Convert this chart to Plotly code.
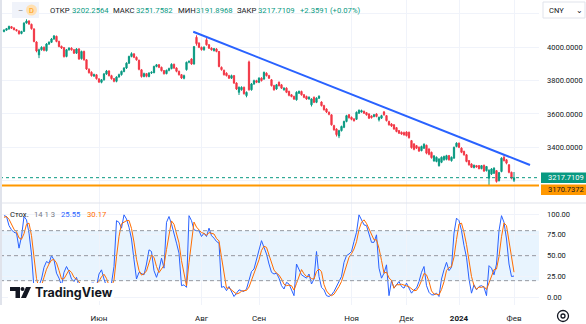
import plotly.graph_objects as go

# ---------------- data (daily bars, index = trading day) ----------------
open_ = [4095, 4103, 4110, 4124, 4116, 4106, 4098, 4083, 4096, 4146,
 4158, 4138, 4110, 4032, 3955, 3985, 4000, 3980, 4020, 4030,
 4050, 4066, 4035, 4006, 3998, 3945, 3985, 3995, 3985, 3965,
 3990, 3932, 3975, 3925, 3868, 3850, 3828, 3835, 3810, 3790,
 3805, 3840, 3858, 3830, 3812, 3796, 3822, 3836, 3855, 3876,
 3905, 3945, 3960, 3940, 3922, 3865, 3825, 3842, 3825, 3846,
 3848, 3885, 3895, 3880, 3860, 3842, 3862, 3872, 3898, 3876,
 3856, 3836, 3814, 3866, 3910, 3930, 3900, 4060, 4025, 4000,
 3985, 4045, 4015, 3995, 3980, 3990, 3975, 3880, 3862, 3845,
 3830, 3815, 3830, 3786, 3730, 3745, 3760, 3710, 3912, 3745,
 3780, 3800, 3790, 3815, 3810, 3845, 3830, 3805, 3770, 3750,
 3790, 3775, 3745, 3755, 3735, 3715, 3705, 3685, 3725, 3735,
 3715, 3705, 3690, 3655, 3700, 3670, 3695, 3672, 3650, 3630,
 3610, 3595, 3530, 3510, 3468, 3500, 3520, 3555, 3595, 3580,
 3570, 3568, 3605, 3612, 3616, 3608, 3600, 3588, 3585, 3600,
 3565, 3575, 3612, 3590, 3555, 3540, 3535, 3518, 3500, 3490,
 3488, 3492, 3490, 3440, 3420, 3410, 3400, 3380, 3395, 3412,
 3390, 3370, 3318, 3315, 3290, 3310, 3325, 3328, 3350, 3320,
 3335, 3405, 3425, 3395, 3375, 3355, 3320, 3300, 3278, 3290,
 3290, 3272, 3292, 3260, 3215, 3240, 3245, 3260, 3200, 3255,
 3340, 3325, 3295, 3250, 3202.2564]

close = [4103, 4112, 4125, 4115, 4106, 4100, 4082, 4095, 4145, 4158,
 4140, 4112, 4035, 3978, 3985, 4000, 3982, 4020, 4030, 4050,
 4068, 4035, 4005, 3996, 3945, 3985, 3995, 3985, 3965, 3990,
 3930, 3975, 3925, 3870, 3848, 3830, 3836, 3812, 3792, 3805,
 3840, 3858, 3830, 3812, 3796, 3822, 3836, 3856, 3876, 3905,
 3945, 3962, 3940, 3925, 3868, 3825, 3842, 3826, 3846, 3850,
 3885, 3895, 3880, 3860, 3842, 3862, 3872, 3898, 3876, 3856,
 3836, 3816, 3830, 3910, 3916, 3900, 4004, 4022, 4000, 3986,
 4000, 4015, 3995, 3985, 3992, 3975, 3885, 3866, 3836, 3830,
 3815, 3830, 3786, 3750, 3760, 3760, 3722, 3730, 3745, 3780,
 3800, 3790, 3815, 3800, 3850, 3830, 3815, 3770, 3745, 3775,
 3770, 3755, 3755, 3730, 3712, 3705, 3690, 3730, 3736, 3715,
 3700, 3690, 3700, 3690, 3670, 3695, 3706, 3650, 3626, 3612,
 3598, 3535, 3505, 3476, 3500, 3525, 3555, 3590, 3578, 3568,
 3560, 3610, 3622, 3620, 3605, 3595, 3575, 3578, 3595, 3585,
 3580, 3590, 3595, 3560, 3535, 3528, 3510, 3495, 3485, 3480,
 3475, 3470, 3458, 3398, 3388, 3395, 3378, 3405, 3418, 3365,
 3358, 3338, 3348, 3340, 3330, 3340, 3345, 3350, 3325, 3340,
 3400, 3425, 3400, 3370, 3355, 3315, 3295, 3280, 3292, 3282,
 3272, 3290, 3258, 3285, 3262, 3270, 3275, 3195, 3248, 3335,
 3320, 3305, 3250, 3215, 3217.7109]

high = [4108, 4116, 4130, 4128, 4120, 4110, 4102, 4099, 4150, 4168,
 4162, 4142, 4114, 4036, 3992, 4006, 4005, 4025, 4036, 4056,
 4074, 4070, 4040, 4010, 4002, 3990, 4000, 4000, 3990, 3995,
 3995, 3980, 3980, 3928, 3874, 3856, 3842, 3840, 3815, 3810,
 3846, 3864, 3862, 3835, 3816, 3826, 3842, 3860, 3880, 3910,
 3950, 3970, 3966, 3945, 3926, 3870, 3848, 3846, 3850, 3856,
 3890, 3900, 3900, 3884, 3864, 3866, 3878, 3904, 3902, 3880,
 3860, 3840, 3836, 3914, 3920, 3934, 4008, 4072, 4030, 4004,
 4006, 4055, 4020, 4000, 3996, 3995, 3978, 3885, 3866, 3850,
 3835, 3836, 3834, 3790, 3765, 3766, 3764, 3735, 3920, 3786,
 3806, 3805, 3820, 3820, 3854, 3850, 3835, 3810, 3775, 3780,
 3795, 3780, 3760, 3760, 3740, 3720, 3710, 3736, 3740, 3740,
 3720, 3710, 3706, 3694, 3705, 3700, 3712, 3676, 3655, 3634,
 3615, 3598, 3535, 3514, 3505, 3530, 3560, 3595, 3600, 3585,
 3575, 3615, 3627, 3626, 3620, 3612, 3604, 3592, 3600, 3605,
 3584, 3595, 3618, 3594, 3560, 3545, 3538, 3522, 3504, 3495,
 3494, 3496, 3494, 3444, 3425, 3414, 3405, 3410, 3424, 3416,
 3394, 3374, 3354, 3345, 3334, 3345, 3350, 3355, 3354, 3345,
 3404, 3430, 3428, 3400, 3380, 3360, 3324, 3304, 3296, 3294,
 3294, 3294, 3296, 3288, 3268, 3275, 3280, 3264, 3252, 3340,
 3352, 3330, 3298, 3254, 3251.7582]

low = [4090, 4100, 4106, 4110, 4102, 4095, 4076, 4078, 4092, 4142,
 4135, 4106, 4030, 3970, 3935, 3980, 3976, 3975, 4014, 4026,
 4045, 4030, 4000, 3990, 3938, 3940, 3980, 3980, 3960, 3960,
 3925, 3926, 3920, 3864, 3842, 3824, 3822, 3806, 3786, 3784,
 3800, 3835, 3825, 3806, 3790, 3790, 3818, 3830, 3850, 3870,
 3900, 3940, 3935, 3920, 3862, 3818, 3820, 3820, 3820, 3840,
 3844, 3880, 3875, 3855, 3836, 3838, 3856, 3868, 3870, 3850,
 3830, 3810, 3808, 3860, 3904, 3895, 3896, 4010, 3995, 3980,
 3980, 4010, 3990, 3980, 3975, 3970, 3880, 3860, 3830, 3825,
 3810, 3810, 3780, 3744, 3714, 3740, 3716, 3700, 3740, 3740,
 3775, 3785, 3785, 3795, 3805, 3825, 3810, 3765, 3740, 3745,
 3765, 3750, 3740, 3725, 3706, 3700, 3684, 3680, 3720, 3710,
 3695, 3685, 3686, 3645, 3665, 3665, 3690, 3645, 3620, 3606,
 3592, 3530, 3500, 3465, 3455, 3495, 3515, 3550, 3572, 3562,
 3554, 3564, 3600, 3608, 3600, 3590, 3570, 3572, 3580, 3580,
 3555, 3570, 3590, 3555, 3530, 3522, 3505, 3490, 3480, 3475,
 3470, 3465, 3452, 3392, 3382, 3390, 3372, 3376, 3390, 3358,
 3352, 3332, 3314, 3310, 3284, 3305, 3320, 3322, 3320, 3314,
 3332, 3400, 3395, 3365, 3350, 3310, 3290, 3276, 3274, 3278,
 3268, 3268, 3252, 3255, 3170.7372, 3234, 3240, 3188, 3195, 3250,
 3315, 3298, 3244, 3208, 3191.8968]

stoch_k = [98, 97, 86, 81, 78, 77, 59, 73, 97, 93,
 77, 52, 10, 6, 14, 22, 36, 43, 41, 50,
 45, 29, 23, 14, 30, 37, 31, 22, 19, 24,
 13, 9, 8, 6, 7, 17, 17, 13, 28, 33,
 22, 13, 8, 17, 37, 92, 90, 83, 99, 94,
 84, 70, 45, 22, 30, 28, 27, 40, 57, 55,
 32, 24, 33, 47, 35, 90, 97, 88, 78, 65,
 53, 14, 15, 12, 98, 92, 81, 80, 80, 73,
 77, 73, 83, 74, 71, 67, 65, 12, 13, 8,
 13, 6, 1, 5, 9, 8, 7, 10, 20, 31,
 34, 45, 56, 68, 60, 52, 40, 30, 28, 29,
 23, 14, 10, 18, 16, 8, 2, 40, 33, 27,
 25, 23, 28, 16, 22, 55, 25, 12, 9, 2,
 1, 3, 7, 13, 19, 25, 42, 50, 52, 55,
 67, 78, 99, 93, 87, 86, 75, 66, 66, 75,
 35, 23, 29, 39, 2, 20, 11, 15, 19, 13,
 11, 17, 10, 5, 9, 11, 19, 30, 37, 14,
 6, 3, 3, 5, 1, 22, 33, 42, 32, 36,
 77, 95, 92, 80, 62, 48, 22, 5, 15, 9,
 13, 14, 12, 2, 38, 35, 27, 40, 80, 98,
 90, 70, 40, 25, 25.55]

stoch_d = [96, 97, 93.7, 88, 81.7, 78.7, 71.3, 69.7, 76.3, 87.7,
 89, 74, 46.3, 22.7, 10, 14, 24, 33.7, 40, 44.7,
 45.3, 41.3, 32.3, 22, 22.3, 27, 32.7, 30, 24, 21.7,
 18.7, 15.3, 10, 7.7, 7, 10, 13.7, 15.7, 19.3, 24.7,
 27.7, 22.7, 14.3, 12.7, 20.7, 48.7, 73, 88.3, 90.7, 92,
 92.3, 82.7, 66.3, 45.7, 32.3, 26.7, 28.3, 31.7, 41.3, 50.7,
 48, 37, 29.7, 34.7, 38.3, 57.3, 74, 91.7, 87.7, 77,
 65.3, 44, 27.3, 13.7, 41.7, 67.3, 90.3, 84.3, 80.3, 77.7,
 76.7, 74.3, 77.7, 76.7, 76, 70.7, 67.7, 48, 30, 11,
 11.3, 9, 6.7, 4, 5, 7.3, 8, 8.3, 12.3, 20.3,
 28.3, 36.7, 45, 56.3, 61.3, 60, 50.7, 40.7, 32.7, 29,
 26.7, 22, 15.7, 14, 14.7, 14, 8.7, 16.7, 25, 33.3,
 28.3, 25, 25.3, 22.3, 22, 31, 34, 30.7, 15.3, 7.7,
 4, 2, 3.7, 7.7, 13, 19, 28.7, 39, 48, 52.3,
 58, 66.7, 81.3, 90, 93, 88.7, 82.7, 75.7, 69, 69,
 58.7, 44.3, 29, 30.3, 23.3, 20.3, 11, 15.3, 15, 15.7,
 14.3, 13.7, 12.7, 10.7, 8, 8.3, 13, 20, 28.7, 27,
 19, 7.7, 4, 3.7, 3, 9.3, 18.7, 32.3, 35.7, 36.7,
 48.3, 69.3, 88, 89, 78, 63.3, 44, 25, 14, 9.7,
 12.3, 12, 13, 9.3, 17.3, 25, 33.3, 34, 49, 72.7,
 89.3, 86, 66.7, 45, 30.17]

month_tick_idx = [38, 79, 102, 139, 161, 182, 204]
month_tick_text = ["Июн", "Авг", "Сен", "Ноя", "Дек", "<b>2024</b>", "Фев"]
price_ticks = [3200, 3400, 3600, 3800, 4000, 4200]
price_tick_text = ["", "3400.0000", "3600.0000", "3800.0000", "4000.0000", ""]
stoch_ticks = [0, 25, 50, 75, 100]
stoch_tick_text = ["0.00", "25.00", "50.00", "75.00", "100.00"]
trend_x = [75.7, 210.4]          # drawn trend line (bar index)
trend_price = [4093.6, 3293.8]   # drawn trend line (price)
support_level = 3170.7372
prev_close = 3215.3518

bars = list(range(len(close)))

# ---------------- geometry helpers (pixels -> paper) ----------------
W, H = 586, 324
PL, PR, PT, PB = 0, 539, 0, 305
SEP = 203

def px(x):
    return (x - PL) / (PR - PL)

def py(y):
    return 1 - (y - PT) / (PB - PT)

GREEN = "#089981"
RED = "#F23645"
BLUE = "#2962FF"
ORANGE = "#FF6D00"
TXT = "#131722"
GRID = "#F0F3FA"
FONT = "Roboto"

fig = go.Figure()

fig.add_trace(go.Candlestick(
    x=bars, open=open_, high=high, low=low, close=close,
    increasing=dict(line=dict(color=GREEN, width=1), fillcolor=GREEN),
    decreasing=dict(line=dict(color=RED, width=1), fillcolor=RED),
    whiskerwidth=0, xaxis="x", yaxis="y", showlegend=False, hoverinfo="skip"))

fig.add_trace(go.Scatter(x=trend_x, y=trend_price, mode="lines",
                         line=dict(color=BLUE, width=2), xaxis="x", yaxis="y",
                         showlegend=False, hoverinfo="skip"))

fig.add_trace(go.Scatter(x=bars, y=stoch_k, mode="lines",
                         line=dict(color=BLUE, width=1), xaxis="x2", yaxis="y2",
                         showlegend=False, hoverinfo="skip"))
fig.add_trace(go.Scatter(x=bars, y=stoch_d, mode="lines",
                         line=dict(color=ORANGE, width=1), xaxis="x2", yaxis="y2",
                         showlegend=False, hoverinfo="skip"))

shapes = []
# stochastic band
shapes.append(dict(type="rect", xref="paper", yref="y2", x0=0, x1=1, y0=20, y1=80,
                   fillcolor="rgba(33,150,243,0.1)", line=dict(width=0), layer="below"))
for lvl in (80, 50, 20):
    shapes.append(dict(type="line", xref="paper", yref="y2", x0=0, x1=1, y0=lvl, y1=lvl,
                       line=dict(color="#9598A1", width=1, dash="4px,3px")))
# support (orange) and last price (dotted)
shapes.append(dict(type="line", xref="paper", yref="y", x0=0, x1=1,
                   y0=support_level, y1=support_level, line=dict(color="#FF9800", width=2)))
shapes.append(dict(type="line", xref="paper", yref="y", x0=0, x1=1,
                   y0=close[-1], y1=close[-1], line=dict(color=GREEN, width=1, dash="dot")))
# pane separator and left border
shapes.append(dict(type="line", xref="paper", yref="paper", x0=0, x1=px(586),
                   y0=py(SEP), y1=py(SEP), line=dict(color="#E0E3EB", width=1)))
shapes.append(dict(type="line", xref="paper", yref="paper", x0=px(1), x1=px(1),
                   y0=py(0), y1=py(305), line=dict(color="#E0E3EB", width=2)))

# price labels on the scale
def box(x0, y0, x1, y1, color, line=None):
    return dict(type="rect", xref="paper", yref="paper", x0=px(x0), x1=px(x1),
                y0=py(y1), y1=py(y0), fillcolor=color,
                line=dict(width=0) if line is None else line)

shapes.append(box(541, 172.5, 586, 183, GREEN))
shapes.append(box(541, 184.5, 586, 195, "#FF9800"))

# header pill
shapes.append(box(12, 2, 39, 18, "#F0F3FA"))
shapes.append(dict(type="circle", xref="paper", yref="paper",
                   x0=px(26), x1=px(37), y0=py(15.5), y1=py(4.5),
                   fillcolor="#FFE0B2", line=dict(width=0)))
# CNY box
shapes.append(box(543, 2, 585, 18, "white", line=dict(color="#E0E3EB", width=1)))

# TradingView logo mark (on a white backdrop)
shapes.append(box(8, 283, 114, 301, "white"))

def path(points):
    d = "M " + " L ".join(f"{px(x)},{py(y)}" for x, y in points) + " Z"
    return dict(type="path", xref="paper", yref="paper", path=d,
                fillcolor=TXT, line=dict(width=0))

shapes.append(path([(10, 287), (20, 287), (20, 298), (15.5, 298), (15.5, 291), (10, 291)]))
shapes.append(dict(type="circle", xref="paper", yref="paper",
                   x0=px(20.5), x1=px(24.5), y0=py(291), y1=py(287),
                   fillcolor=TXT, line=dict(width=0)))
shapes.append(path([(21, 298), (26, 287), (31, 287), (26, 298)]))

# settings icon
shapes.append(dict(type="circle", xref="paper", yref="paper",
                   x0=px(557.5), x1=px(568.5), y0=py(321.5), y1=py(310.5),
                   line=dict(color=TXT, width=1.3)))
shapes.append(dict(type="circle", xref="paper", yref="paper",
                   x0=px(561), x1=px(565), y0=py(318), y1=py(314),
                   line=dict(color=TXT, width=1.3)))

ann = []

def text(x, y, s, color=TXT, size=7.7, anchor="left", family=FONT):
    ann.append(dict(xref="paper", yref="paper", x=px(x), y=py(y), text=s,
                    showarrow=False, xanchor=anchor, yanchor="middle",
                    font=dict(family=family, size=size, color=color)))

chg = close[-1] - prev_close
header = [
    ("ОТКР", TXT, 48), (f"{open_[-1]:.4f}", GREEN, 70),
    ("МАКС", TXT, 111), (f"{high[-1]:.4f}", GREEN, 134),
    ("МИН", TXT, 176), (f"{low[-1]:.4f}", GREEN, 194),
    ("ЗАКР", TXT, 235), (f"{close[-1]:.4f}", GREEN, 256),
    (f"+{chg:.4f} (+{chg / prev_close * 100:.2f}%)", GREEN, 298),
]
for s, c, x in header:
    text(x, 10, s, c)
text(20.5, 10, "–", "#787B86", 8, "center")
text(31.5, 10, "D", "#FF9800", 7.5, "center")
text(547, 10, "CNY", TXT, 7.5)
text(579, 10, "⌄", TXT, 7.5, "center")

text(8, 214, "Стох.", TXT)
text(32, 214, "14 1 3", "#787B86")
text(59, 214, f"{stoch_k[-1]:.2f}", BLUE)
text(85, 214, f"{stoch_d[-1]:.2f}", ORANGE)

text(545.5, 177.8, f"{close[-1]:.4f}", "white", 7.5)
text(545.5, 189.8, f"{support_level:.4f}", TXT, 7.5)

text(33, 292.5, "<b>TradingView</b>", TXT, 12.5, "left", "Inter")

fig.update_layout(
    width=W, height=H, template="none",
    margin=dict(l=PL, r=W - PR, t=PT, b=H - PB, pad=0),
    paper_bgcolor="white", plot_bgcolor="white",
    showlegend=False,
    xaxis=dict(domain=[0, 1], anchor="y", range=[-1.6, 214], tickvals=month_tick_idx,
               showticklabels=False, showgrid=True, gridcolor=GRID, gridwidth=1,
               zeroline=False, showline=False, ticks="",
               rangeslider=dict(visible=False), fixedrange=True),
    xaxis2=dict(domain=[0, 1], anchor="y2", matches="x", range=[-1.6, 214],
                tickvals=month_tick_idx, ticktext=month_tick_text,
                showgrid=True, gridcolor=GRID, gridwidth=1, zeroline=False,
                showline=False, ticks="", ticklabelstandoff=7,
                tickfont=dict(family=FONT, size=8, color=TXT), fixedrange=True),
    yaxis=dict(domain=[1 - SEP / PB, 1], anchor="x", side="right",
               range=[3065.8, 4283.8], tickvals=price_ticks, ticktext=price_tick_text,
               showgrid=True, gridcolor=GRID, zeroline=False, showline=False,
               ticks="", ticklabelstandoff=7, automargin=False,
               tickfont=dict(family=FONT, size=7.5, color=TXT), fixedrange=True),
    yaxis2=dict(domain=[0, 1 - SEP / PB], anchor="x2", side="right",
                range=[-9.2, 113.2], tickvals=stoch_ticks, ticktext=stoch_tick_text,
                showgrid=True, gridcolor=GRID, zeroline=False, showline=False,
                ticks="", ticklabelstandoff=7, automargin=False,
                tickfont=dict(family=FONT, size=7.5, color=TXT), fixedrange=True),
    shapes=shapes, annotations=ann,
)

fig.write_html("out.html")
